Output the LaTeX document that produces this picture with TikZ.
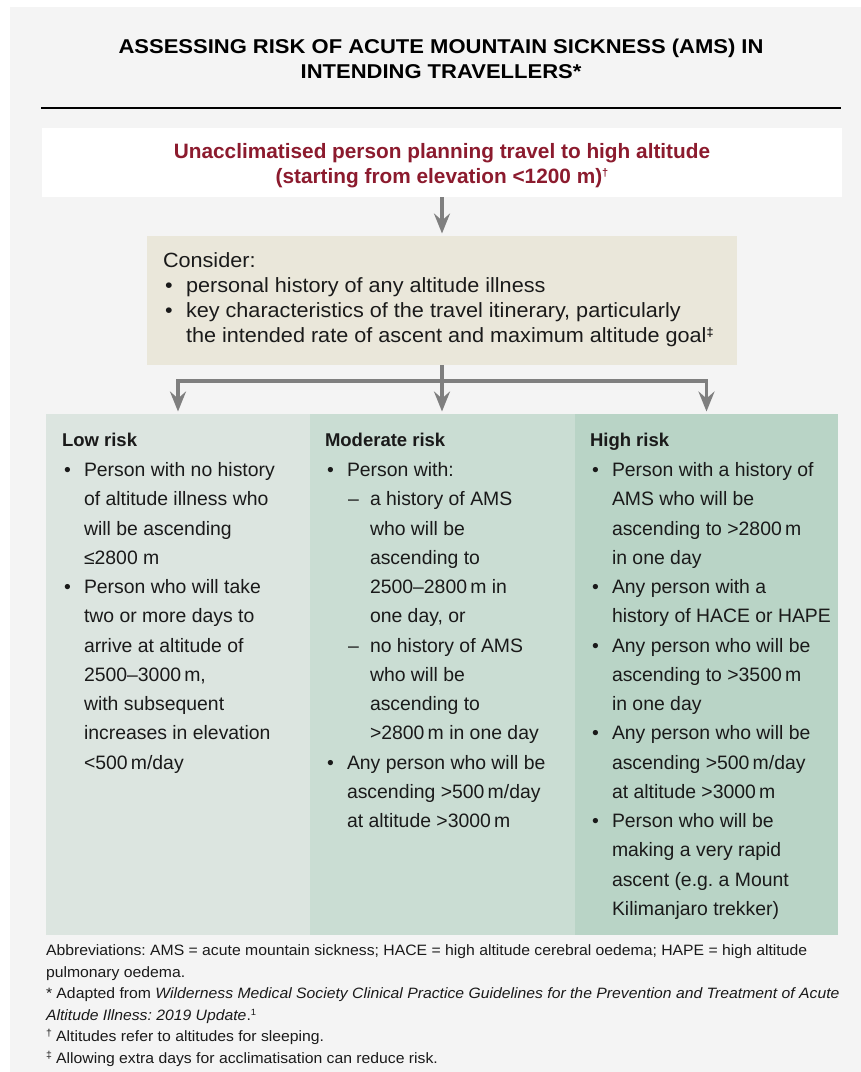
\documentclass[tikz,border=0pt]{standalone}
\usepackage{fontspec}
\setmainfont{Liberation Sans}
\newfontfamily\widefont[FakeStretch=1.05]{Liberation Sans}
\newfontfamily\titlefont[FakeStretch=1.1]{Liberation Sans}
\usetikzlibrary{arrows.meta}
\definecolor{bggray}{HTML}{F4F4F4}
\definecolor{redtxt}{HTML}{8C1B2E}
\definecolor{beige}{HTML}{EAE7DA}
\definecolor{lowc}{HTML}{DCE5E0}
\definecolor{modc}{HTML}{CADDD3}
\definecolor{highc}{HTML}{B9D4C6}
\definecolor{arrgray}{HTML}{7F7F7F}
\definecolor{ink}{HTML}{1A1A1A}
\newcommand\yy[1]{476.5+29.25*#1}
\newcommand\smark[2]{\raisebox{#1}{\fontsize{#2}{#2}\selectfont\textbf{†}}}
\newcommand\dmark[2]{\raisebox{#1}{\fontsize{#2}{#2}\selectfont\textbf{‡}}}
\tikzset{
  panel/.style={draw=none, inner sep=0pt, outer sep=0pt, anchor=north west},
  txt/.style={anchor=base west, inner sep=0pt, outer sep=0pt, text=ink},
  ctr/.style={anchor=base, inner sep=0pt, outer sep=0pt},
  colf/.style={font=\fontsize{19.4}{23}\selectfont},
  headf/.style={font=\fontsize{18.5}{22}\selectfont\bfseries},
  consf/.style={font=\widefont\fontsize{20.6}{24}\selectfont},
  footf/.style={font=\widefont\fontsize{15}{18}\selectfont},
  conn/.style={draw=arrgray, line width=3.2pt, line join=miter},
  arr/.style={conn, -{Stealth[length=20pt, width=16pt, inset=7pt]}, shorten >=2.5pt},
}
\begin{document}
\frenchspacing
\begin{tikzpicture}[x=1pt, y=-1pt]
\useasboundingbox (0,0) rectangle (861,1072);
\fill[bggray] (10,7) rectangle (861,1072);

% title
\node[ctr, font=\titlefont\fontsize{20}{24}\selectfont\bfseries] (t1) at (441,53.5) {ASSESSING RISK OF ACUTE MOUNTAIN SICKNESS (AMS) IN};
\node[ctr, font=\titlefont\fontsize{20}{24}\selectfont\bfseries] (t2) at (441,78) {INTENDING TRAVELLERS*};
\draw[line width=1.5pt] (41,108) -- (841,108);

% panels
\node[panel, fill=white, minimum width=800pt, minimum height=69pt] (top) at (42,128) {};
\node[panel, fill=beige, minimum width=590pt, minimum height=129pt] (cons) at (147,236) {};
\node[panel, fill=lowc, minimum width=264pt, minimum height=521pt] (low) at (46,414) {};
\node[panel, fill=modc, minimum width=265pt, minimum height=521pt] (mod) at (310,414) {};
\node[panel, fill=highc, minimum width=263pt, minimum height=521pt] (high) at (575,414) {};

% top text
\node[ctr, text=redtxt, font=\fontsize{20.8}{25}\selectfont\bfseries] (h1) at (442,158) {Unacclimatised person planning travel to high altitude};
\node[ctr, text=redtxt, font=\fontsize{20.8}{25}\selectfont\bfseries] (h2) at (442,183) {(starting from elevation <1200 m)\smark{7pt}{11}};

% consider text
\node[txt, consf] (c0) at (163,267) {Consider:};
\node[txt, consf] (c1b) at (165,292) {•};
\node[txt, consf] (c1) at (186,292) {personal history of any altitude illness};
\node[txt, consf] (c2b) at (165,317) {•};
\node[txt, consf] (c2) at (186,317) {key characteristics of the travel itinerary, particularly};
\node[txt, consf] (c3) at (186,342) {the intended rate of ascent and maximum altitude goal\dmark{6pt}{12}};

% connectors
\coordinate (jL) at (178,381);
\coordinate (jR) at (706.5,381);
\draw[arr] (top.south) -- (top.south |- cons.north);
\draw[arr] (cons.south) -- (cons.south |- mod.north);
\draw[arr] (jR) -- (jL) -- (jL |- low.north);
\draw[arr] (jL) -- (jR) -- (jR |- high.north);

% low risk
\node[txt, headf] (lh) at (62,446) {Low risk};
\node[txt, colf] at (64,{\yy{0}}) {•};
\node[txt, colf] at (84,{\yy{0}}) {Person with no history};
\node[txt, colf] at (84,{\yy{1}}) {of altitude illness who};
\node[txt, colf] at (84,{\yy{2}}) {will be ascending};
\node[txt, colf] at (84,{\yy{3}}) {≤2800 m};
\node[txt, colf] at (64,{\yy{4}}) {•};
\node[txt, colf] at (84,{\yy{4}}) {Person who will take};
\node[txt, colf] at (84,{\yy{5}}) {two or more days to};
\node[txt, colf] at (84,{\yy{6}}) {arrive at altitude of};
\node[txt, colf] at (84,{\yy{7}}) {2500–3000\,m,};
\node[txt, colf] at (84,{\yy{8}}) {with subsequent};
\node[txt, colf] at (84,{\yy{9}}) {increases in elevation};
\node[txt, colf] at (84,{\yy{10}}) {<500\,m/day};

% moderate risk
\node[txt, headf] (mh) at (325,446) {Moderate risk};
\node[txt, colf] at (327,{\yy{0}}) {•};
\node[txt, colf] at (347,{\yy{0}}) {Person with:};
\node[txt, colf] at (348,{\yy{1}}) {–};
\node[txt, colf] at (370,{\yy{1}}) {a history of AMS};
\node[txt, colf] at (370,{\yy{2}}) {who will be};
\node[txt, colf] at (370,{\yy{3}}) {ascending to};
\node[txt, colf] at (370,{\yy{4}}) {2500–2800\,m in};
\node[txt, colf] at (370,{\yy{5}}) {one day, or};
\node[txt, colf] at (348,{\yy{6}}) {–};
\node[txt, colf] at (370,{\yy{6}}) {no history of AMS};
\node[txt, colf] at (370,{\yy{7}}) {who will be};
\node[txt, colf] at (370,{\yy{8}}) {ascending to};
\node[txt, colf] at (370,{\yy{9}}) {>2800\,m in one day};
\node[txt, colf] at (327,{\yy{10}}) {•};
\node[txt, colf] at (347,{\yy{10}}) {Any person who will be};
\node[txt, colf] at (347,{\yy{11}}) {ascending >500\,m/day};
\node[txt, colf] at (347,{\yy{12}}) {at altitude >3000\,m};

% high risk
\node[txt, headf] (hh) at (590,446) {High risk};
\node[txt, colf] at (592,{\yy{0}}) {•};
\node[txt, colf] at (612,{\yy{0}}) {Person with a history of};
\node[txt, colf] at (612,{\yy{1}}) {AMS who will be};
\node[txt, colf] at (612,{\yy{2}}) {ascending to >2800\,m};
\node[txt, colf] at (612,{\yy{3}}) {in one day};
\node[txt, colf] at (592,{\yy{4}}) {•};
\node[txt, colf] at (612,{\yy{4}}) {Any person with a};
\node[txt, colf] at (612,{\yy{5}}) {history of HACE or HAPE};
\node[txt, colf] at (592,{\yy{6}}) {•};
\node[txt, colf] at (612,{\yy{6}}) {Any person who will be};
\node[txt, colf] at (612,{\yy{7}}) {ascending to >3500\,m};
\node[txt, colf] at (612,{\yy{8}}) {in one day};
\node[txt, colf] at (592,{\yy{9}}) {•};
\node[txt, colf] at (612,{\yy{9}}) {Any person who will be};
\node[txt, colf] at (612,{\yy{10}}) {ascending >500\,m/day};
\node[txt, colf] at (612,{\yy{11}}) {at altitude >3000\,m};
\node[txt, colf] at (592,{\yy{12}}) {•};
\node[txt, colf] at (612,{\yy{12}}) {Person who will be};
\node[txt, colf] at (612,{\yy{13}}) {making a very rapid};
\node[txt, colf] at (612,{\yy{14}}) {ascent (e.g. a Mount};
\node[txt, colf] at (612,{\yy{15}}) {Kilimanjaro trekker)};

% footnotes
\node[txt, footf] (f1) at (46,955.5) {Abbreviations: AMS = acute mountain sickness; HACE = high altitude cerebral oedema; HAPE = high altitude};
\node[txt, footf] (f2) at (46,977) {pulmonary oedema.};
\node[txt, footf] (f3) at (46,998.5) {* Adapted from \textit{Wilderness Medical Society Clinical Practice Guidelines for the Prevention and Treatment of Acute}};
\node[txt, footf] (f4) at (46,1020) {\textit{Altitude Illness: 2019 Update}.\raisebox{5pt}{\fontsize{9}{9}\selectfont 1}};
\node[txt, footf] (f5) at (46,1041.5) {\raisebox{5pt}{\fontsize{10}{10}\selectfont †} Altitudes refer to altitudes for sleeping.};
\node[txt, footf] (f6) at (46,1063) {\raisebox{5pt}{\fontsize{10}{10}\selectfont ‡} Allowing extra days for acclimatisation can reduce risk.};
\end{tikzpicture}
\end{document}
